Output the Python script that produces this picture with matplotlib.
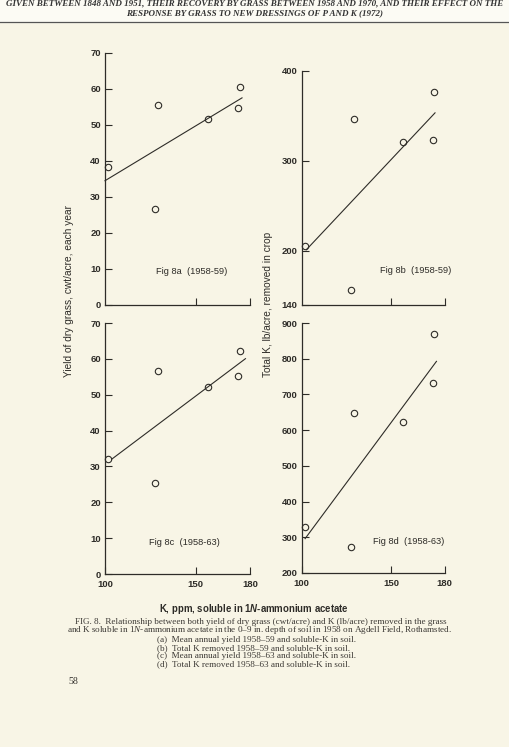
import numpy as np
import matplotlib
matplotlib.use("Agg")
import matplotlib.pyplot as plt

plt.rcParams["mathtext.fontset"] = "custom"
plt.rcParams["mathtext.it"] = "Liberation Serif:italic"
plt.rcParams["mathtext.rm"] = "Liberation Serif"
plt.rcParams["mathtext.bf"] = "Liberation Sans:bold:italic"

# soluble K in soil (ppm) - same plots in every panel
soil_k = np.array([101.9, 129.3, 127.6, 156.6, 174.3, 173.6])

yield_5859 = np.array([38.2, 55.5, 26.6, 51.6, 60.6, 54.8])     # Fig 8a
k_removed_5859 = np.array([205.9, 346.7, 156.7, 321.0, 376.7, 323.3])  # Fig 8b
yield_5863 = np.array([32.2, 56.6, 25.5, 52.1, 62.1, 55.2])     # Fig 8c
k_removed_5863 = np.array([328.8, 647.0, 273.7, 622.8, 869.0, 733.0])  # Fig 8d

panel_names = ["Fig 8a  (1958-59)", "Fig 8b  (1958-59)",
               "Fig 8c  (1958-63)", "Fig 8d  (1958-63)"]
fit_ranges = [(100, 175.6), (102.7, 174.7), (103.7, 177.5), (102, 175.5)]

yticks_a = [0, 10, 20, 30, 40, 50, 60, 70]
yticks_b = [140, 200, 300, 400]
yticks_d = [200, 300, 400, 500, 600, 700, 800, 900]
xticks = [100, 150, 180]

paper = "#f8f5e6"
ink = "#2e2c28"
W, H = 509, 747

fig = plt.figure(figsize=(W / 100, H / 100), dpi=100)
fig.patch.set_facecolor(paper)


def px_axes(x0, x1, y_bottom, y_top):
    return fig.add_axes([x0 / W, 1 - y_bottom / H, (x1 - x0) / W, (y_bottom - y_top) / H])


ax_a = px_axes(105, 250, 305, 53)
ax_b = px_axes(301.5, 444.5, 305, 71)
ax_c = px_axes(105, 250, 574, 323)
ax_d = px_axes(301.5, 444.5, 573, 323)

panels = [
    (ax_a, yield_5859, (0, 70), yticks_a, (147.8, 9.2), False),
    (ax_b, k_removed_5859, (140, 400), yticks_b, (163.9, 177.8), False),
    (ax_c, yield_5863, (0, 70), yticks_a, (143.6, 8.9), True),
    (ax_d, k_removed_5863, (200, 900), yticks_d, (160.1, 287.6), True),
]

for i, (ax, yv, ylim, yt, txt_pos, bottom) in enumerate(panels):
    ax.set_facecolor("none")
    ax.plot(soil_k, yv, "o", mfc="none", mec=ink, ms=4.6, mew=0.8, clip_on=False)
    coef = np.polyfit(soil_k, yv, 1)
    xs = np.array(fit_ranges[i])
    ax.plot(xs, np.polyval(coef, xs), "-", color=ink, lw=0.8, clip_on=False)
    ax.set_xlim(100, 180)
    ax.set_ylim(*ylim)
    ax.set_yticks(yt)
    for s in ["top", "right"]:
        ax.spines[s].set_visible(False)
    for s in ["left", "bottom"]:
        ax.spines[s].set_color(ink)
        ax.spines[s].set_linewidth(0.9)
    if bottom:
        ax.set_xticks(xticks)
    else:
        ax.set_xticks([150, 180])
        ax.set_xticklabels([])
    ax.tick_params(direction="in", length=5, width=0.8, color=ink,
                   labelsize=6.8, labelcolor=ink)
    ax.tick_params(axis="x", pad=4)
    ax.tick_params(axis="y", pad=3)
    for lab in ax.get_xticklabels() + ax.get_yticklabels():
        lab.set_fontweight("bold")
        lab.set_family("Liberation Sans")
    ax.text(txt_pos[0], txt_pos[1], panel_names[i], ha="center", va="center",
            fontsize=6.7, color=ink, family="Liberation Sans")

# axis titles
fig.text(69 / W, 1 - 291 / H, "Yield of dry grass, cwt/acre, each year", rotation=90,
         ha="center", va="center", fontsize=7.3, color=ink, family="Liberation Sans")
fig.text(268 / W, 1 - 304 / H, "Total K, lb/acre, removed in crop", rotation=90,
         ha="center", va="center", fontsize=7.3, color=ink, family="Liberation Sans")
fig.text(254 / W, 1 - 609 / H, r"K, ppm, soluble in 1$\mathbf{N}$-ammonium acetate",
         ha="center", va="center", fontsize=6.9, color=ink, family="Liberation Sans",
         fontweight="semibold")

# running header of the page
fig.patches.append(plt.Rectangle((0, 1 - 22 / H), 1, 22 / H, transform=fig.transFigure,
                                 color="#fcfbf4", zorder=0))
fig.text(0.5, 1 - 3.5 / H, "GIVEN BETWEEN 1848 AND 1951, THEIR RECOVERY BY GRASS BETWEEN 1958 "
         "AND 1970, AND THEIR EFFECT ON THE", ha="center", va="center", fontsize=6.5,
         style="italic", fontweight="bold", family="Liberation Serif", color="#333")
fig.text(0.5, 1 - 13 / H, "RESPONSE BY GRASS TO NEW DRESSINGS OF P AND K (1972)",
         ha="center", va="center", fontsize=6.5, style="italic", fontweight="bold",
         family="Liberation Serif", color="#333")
fig.add_artist(plt.Line2D([0, 1], [1 - 22 / H, 1 - 22 / H], color="#555", lw=0.9))

# caption
cap = dict(fontsize=6.6, color="#3a3733", family="Liberation Serif", va="center")
fig.text(75 / W, 1 - 621.5 / H, "FIG. 8.  Relationship between both yield of dry grass (cwt/acre) "
         "and K (lb/acre) removed in the grass", ha="left", **cap)
fig.text(67 / W, 1 - 630 / H, "and K soluble in 1$N$-ammonium acetate in the 0–9 in. depth "
         "of soil in 1958 on Agdell Field, Rothamsted.", ha="left", **cap)
sub = ["(a)  Mean annual yield 1958–59 and soluble-K in soil.",
       "(b)  Total K removed 1958–59 and soluble-K in soil.",
       "(c)  Mean annual yield 1958–63 and soluble-K in soil.",
       "(d)  Total K removed 1958–63 and soluble-K in soil."]
for j, s in enumerate(sub):
    fig.text(157 / W, 1 - (640.5 + 8 * j) / H, s, ha="left", **cap)
fig.text(68 / W, 1 - 681 / H, "58", ha="left", fontsize=7.2, color="#3a3733",
         family="Liberation Serif", va="center")

fig.savefig("out.png", dpi=100, facecolor=paper)
